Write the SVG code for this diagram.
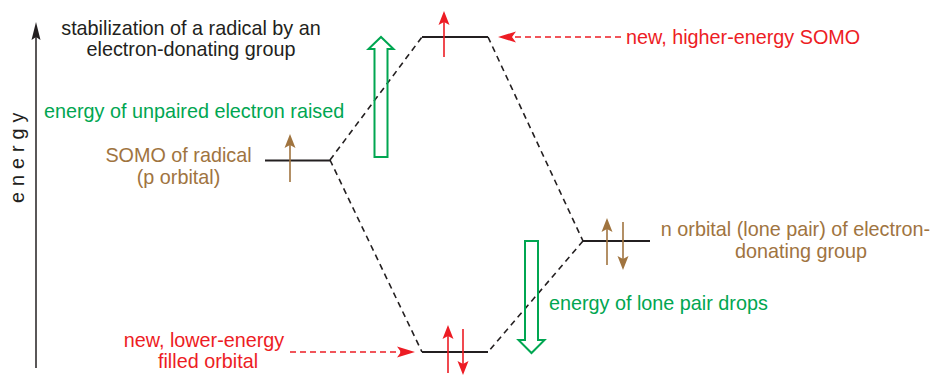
<svg xmlns="http://www.w3.org/2000/svg" width="937" height="375" viewBox="0 0 937 375">
<style>
  text { font-family: "Liberation Sans", Arial, Helvetica, sans-serif; font-size: 19.8px; }
  .blk { fill: #231f20; }
  .grn { fill: #00a651; }
  .red { fill: #ed1c24; }
  .brn { fill: #a0743f; }
  .level { stroke: #231f20; stroke-width: 2; fill: none; }
  .corr { stroke: #231f20; stroke-width: 1.6; fill: none; stroke-dasharray: 6 4.5; }
  .rdash { stroke: #ed1c24; stroke-width: 1.4; fill: none; stroke-dasharray: 6 4; }
  .rarr { stroke: #ed1c24; stroke-width: 1.6; fill: none; }
  .barr { stroke: #a0743f; stroke-width: 1.6; fill: none; }
  .hollow { stroke: #00a651; stroke-width: 2; fill: none; stroke-linejoin: miter; }
  .axis { stroke: #231f20; stroke-width: 1.5; fill: none; }
</style>
<defs>
  <marker id="hRed" markerUnits="userSpaceOnUse" orient="auto" refX="8" refY="0" markerWidth="16" markerHeight="12" overflow="visible">
    <path d="M0,-5.5 L14,0 L0,5.5 L3,0 Z" fill="#ed1c24"/>
  </marker>
  <marker id="hBrn" markerUnits="userSpaceOnUse" orient="auto" refX="8" refY="0" markerWidth="16" markerHeight="12" overflow="visible">
    <path d="M0,-5.5 L14,0 L0,5.5 L3,0 Z" fill="#a0743f"/>
  </marker>
  <marker id="hRedD" markerUnits="userSpaceOnUse" orient="auto" refX="8" refY="0" markerWidth="20" markerHeight="12" overflow="visible">
    <path d="M-2,-5.5 L16,0 L-2,5.5 L2,0 Z" fill="#ed1c24"/>
  </marker>
  <marker id="hAxis" markerUnits="userSpaceOnUse" orient="auto" refX="8" refY="0" markerWidth="20" markerHeight="12" overflow="visible">
    <path d="M-1,-4.5 L17,0 L-1,4.5 L2,0 Z" fill="#231f20"/>
  </marker>
</defs>

<g id="axis">
  <line class="axis" x1="36" y1="368" x2="36" y2="31" marker-end="url(#hAxis)"/>
  <text class="blk" transform="translate(23.5,203) rotate(-90)" letter-spacing="6">energy</text>
</g>

<g id="title">
  <text class="blk" x="191" y="35" text-anchor="middle">stabilization of a radical by an</text>
  <text class="blk" x="191" y="56" text-anchor="middle">electron-donating group</text>
</g>

<g id="connectors">
  <polyline class="corr" points="330,160 422,37"/>
  <polyline class="corr" points="488,37 583,241"/>
  <polyline class="corr" points="330,160 422,352"/>
  <polyline class="corr" points="583,241 488,352"/>
  <line class="rdash" x1="621" y1="37" x2="506" y2="37" marker-end="url(#hRedD)"/>
  <line class="rdash" x1="290" y1="352" x2="407" y2="352" marker-end="url(#hRedD)"/>
</g>

<g id="somo-radical">
  <line class="level" x1="265" y1="160.5" x2="330" y2="160.5"/>
  <line class="barr" x1="290" y1="182" x2="290" y2="140" marker-end="url(#hBrn)"/>
  <text class="brn" x="178.5" y="162" text-anchor="middle">SOMO of radical</text>
  <text class="brn" x="178.5" y="183.5" text-anchor="middle">(p orbital)</text>
</g>

<g id="new-somo">
  <line class="level" x1="422" y1="37" x2="488" y2="37"/>
  <line class="rarr" x1="444" y1="57" x2="444" y2="17" marker-end="url(#hRed)"/>
  <text class="red" x="626" y="43.5">new, higher-energy SOMO</text>
</g>

<g id="n-orbital">
  <line class="level" x1="583" y1="241" x2="650" y2="241"/>
  <line class="barr" x1="607" y1="265" x2="607" y2="224" marker-end="url(#hBrn)"/>
  <line class="barr" x1="623" y1="222" x2="623" y2="264" marker-end="url(#hBrn)"/>
  <text class="brn" x="795.5" y="236" text-anchor="middle">n orbital (lone pair) of electron-</text>
  <text class="brn" x="801" y="257.5" text-anchor="middle">donating group</text>
</g>

<g id="new-filled">
  <line class="level" x1="422" y1="352" x2="488" y2="352"/>
  <line class="rarr" x1="448" y1="373" x2="448" y2="331" marker-end="url(#hRed)"/>
  <line class="rarr" x1="463" y1="329" x2="463" y2="369" marker-end="url(#hRed)"/>
  <text class="red" x="204" y="346.5" text-anchor="middle">new, lower-energy</text>
  <text class="red" x="208" y="367.5" text-anchor="middle">filled orbital</text>
</g>

<g id="raise">
  <polygon class="hollow" points="374.5,157 374.5,49 368.5,49 381,37 393.5,49 387.5,49 387.5,157"/>
  <text class="grn" x="44" y="118">energy of unpaired electron raised</text>
</g>

<g id="drop">
  <polygon class="hollow" points="525,241 538,241 538,340 544.5,340 531.5,353 518.5,340 525,340"/>
  <text class="grn" x="549" y="309.5">energy of lone pair drops</text>
</g>
</svg>
